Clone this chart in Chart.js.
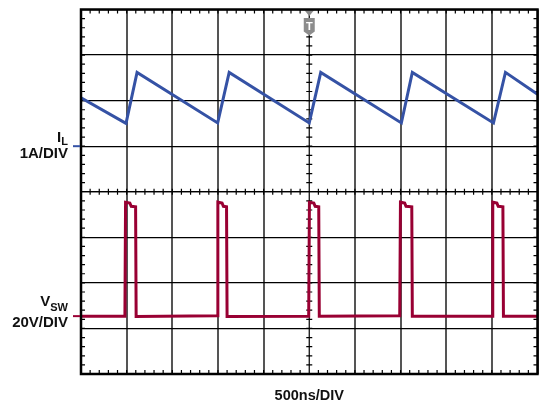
<!DOCTYPE html>
<html>
<head>
<meta charset="utf-8">
<script src="https://cdn.jsdelivr.net/npm/chart.js@4.4.1/dist/chart.umd.min.js"></script>
<style>
  body { margin: 0; background: #fff; }
  #scope { display: block; }
</style>
</head>
<body>
<canvas id="scope" width="541" height="404"></canvas>
<script>
// time axis in ns (10 div x 500ns), vertical axis in divisions (0..8)
const xTicks = [0, 500, 1000, 1500, 2000, 2500, 3000, 3500, 4000, 4500, 5000];
const yTicks = [0, 1, 2, 3, 4, 5, 6, 7, 8];

// inductor current I_L (1A/DIV)
const ilTime = [0, 493, 614, 1497, 1623, 2500, 2626, 3509, 3629, 4518, 4649, 5000];
const ilDiv  = [6.06, 5.50, 6.62, 5.51, 6.62, 5.51, 6.62, 5.51, 6.62, 5.51, 6.62, 6.14];

// switch node V_SW (20V/DIV)
const vswTime = [0, 481, 488, 535, 550, 598, 604,
                 1491, 1499, 1545, 1560, 1594, 1600,
                 2494, 2502, 2550, 2565, 2604, 2610,
                 3491, 3499, 3545, 3560, 3623, 3629,
                 4502, 4510, 4555, 4570, 4621, 4627, 5000];
const vswDiv  = [1.27, 1.27, 3.77, 3.75, 3.68, 3.67, 1.26,
                 1.28, 3.77, 3.75, 3.68, 3.67, 1.26,
                 1.27, 3.77, 3.75, 3.68, 3.67, 1.27,
                 1.28, 3.77, 3.75, 3.68, 3.67, 1.27,
                 1.27, 3.77, 3.75, 3.68, 3.67, 1.27, 1.27];

const ilPoints = ilTime.map((t, i) => ({x: t, y: ilDiv[i]}));
const vswPoints = vswTime.map((t, i) => ({x: t, y: vswDiv[i]}));

const scopeDeco = {
    id: 'scopeDeco',
    beforeDatasetsDraw(chart) {
        const {ctx, chartArea: a, scales} = chart;
        const cx = scales.x.getPixelForValue(2500);
        const cy = scales.y.getPixelForValue(4);
        const minor = (a.right - a.left) / 50;
        const minorY = (a.bottom - a.top) / 40;
        ctx.save();
        ctx.strokeStyle = '#000';
        ctx.lineWidth = 1.2;
        ctx.beginPath();
        // center cross
        ctx.moveTo(a.left, cy); ctx.lineTo(a.right, cy);
        ctx.moveTo(cx, a.top); ctx.lineTo(cx, a.bottom);
        // minor ticks horizontal
        for (let i = 1; i < 50; i++) {
            const x = a.left + i * minor;
            ctx.moveTo(x, a.top); ctx.lineTo(x, a.top + 4);
            ctx.moveTo(x, a.bottom); ctx.lineTo(x, a.bottom - 4);
            ctx.moveTo(x, cy - 3); ctx.lineTo(x, cy + 3);
        }
        for (let j = 1; j < 40; j++) {
            const y = a.top + j * minorY;
            ctx.moveTo(a.left, y); ctx.lineTo(a.left + 4, y);
            ctx.moveTo(a.right, y); ctx.lineTo(a.right - 4, y);
            ctx.moveTo(cx - 3, y); ctx.lineTo(cx + 3, y);
        }
        ctx.stroke();

        // trigger marker
        ctx.fillStyle = '#8c8c8c';
        ctx.beginPath();
        ctx.moveTo(cx - 5, a.top + 0.5);
        ctx.lineTo(cx + 5, a.top + 0.5);
        ctx.lineTo(cx, a.top + 6.5);
        ctx.closePath();
        ctx.fill();
        ctx.beginPath();
        ctx.moveTo(cx - 5.5, a.top + 8.5);
        ctx.lineTo(cx + 5.5, a.top + 8.5);
        ctx.lineTo(cx + 5.5, a.top + 22);
        ctx.lineTo(cx, a.top + 26);
        ctx.lineTo(cx - 5.5, a.top + 22);
        ctx.closePath();
        ctx.fill();
        ctx.fillStyle = '#fff';
        ctx.font = 'bold 11px "Liberation Sans", Arial, sans-serif';
        ctx.textAlign = 'center';
        ctx.textBaseline = 'alphabetic';
        ctx.fillText('T', cx, a.top + 20.5);
        ctx.restore();
    },
    afterDraw(chart) {
        const {ctx, chartArea: a, scales} = chart;
        ctx.save();
        ctx.strokeStyle = '#000';
        ctx.lineWidth = 2.5;
        ctx.strokeRect(a.left, a.top, a.right - a.left, a.bottom - a.top);

        // channel reference markers
        const ilRef = scales.y.getPixelForValue(5);
        const vswRef = scales.y.getPixelForValue(1.27);
        ctx.lineWidth = 2;
        ctx.strokeStyle = '#3552a5';
        ctx.beginPath(); ctx.moveTo(a.left - 8, ilRef); ctx.lineTo(a.left - 1, ilRef); ctx.stroke();
        ctx.strokeStyle = '#990033';
        ctx.beginPath(); ctx.moveTo(a.left - 8, vswRef); ctx.lineTo(a.left - 1, vswRef); ctx.stroke();

        // labels
        const big = 'bold 15px "Liberation Sans", Arial, sans-serif';
        const sub = 'bold 11px "Liberation Sans", Arial, sans-serif';
        ctx.fillStyle = '#111';
        ctx.textAlign = 'right';
        ctx.textBaseline = 'alphabetic';
        const rx = 68;
        ctx.font = sub;
        ctx.fillText('L', rx, 145);
        const lw = ctx.measureText('L').width;
        ctx.font = big;
        ctx.fillText('I', rx - lw, 141.5);
        ctx.fillText('1A/DIV', rx, 158);

        ctx.font = sub;
        ctx.fillText('SW', rx, 311);
        const sw = ctx.measureText('SW').width;
        ctx.font = big;
        ctx.fillText('V', rx - sw, 305.5);
        ctx.fillText('20V/DIV', rx, 326.5);

        ctx.textAlign = 'center';
        ctx.font = 'bold 14.5px "Liberation Sans", Arial, sans-serif';
        ctx.fillText('500ns/DIV', (a.left + a.right) / 2, 400);
        ctx.restore();
    }
};

const scopeChart = new Chart(document.getElementById('scope'), {
    type: 'line',
    data: {
        datasets: [{
            label: 'IL',
            data: ilPoints,
            borderColor: '#3552a5',
            borderWidth: 3,
            pointRadius: 0,
            tension: 0,
            fill: false,
        }, {
            label: 'VSW',
            data: vswPoints,
            borderColor: '#990033',
            borderWidth: 3,
            pointRadius: 0,
            tension: 0,
            fill: false,
        }]
    },
    options: {
        responsive: false,
        animation: false,
        devicePixelRatio: 1,
        layout: {
            padding: {left: 81, top: 9.5, right: 3.5, bottom: 30}
        },
        plugins: {
            legend: {display: false},
            tooltip: {enabled: false}
        },
        scales: {
            x: {
                type: 'linear',
                min: xTicks[0],
                max: xTicks[xTicks.length - 1],
                afterBuildTicks: (axis) => { axis.ticks = xTicks.map(v => ({value: v})); },
                ticks: {display: false},
                border: {display: false},
                grid: {
                    drawTicks: false,
                    color: (c) => c.index === 5 ? 'rgba(0,0,0,0)' : '#555',
                    lineWidth: 2
                }
            },
            y: {
                type: 'linear',
                min: yTicks[0],
                max: yTicks[yTicks.length - 1],
                afterBuildTicks: (axis) => { axis.ticks = yTicks.map(v => ({value: v})); },
                ticks: {display: false},
                border: {display: false},
                grid: {
                    drawTicks: false,
                    color: '#000',
                    lineWidth: 1.3
                }
            }
        }
    },
    plugins: [scopeDeco]
});
</script>
</body>
</html>
